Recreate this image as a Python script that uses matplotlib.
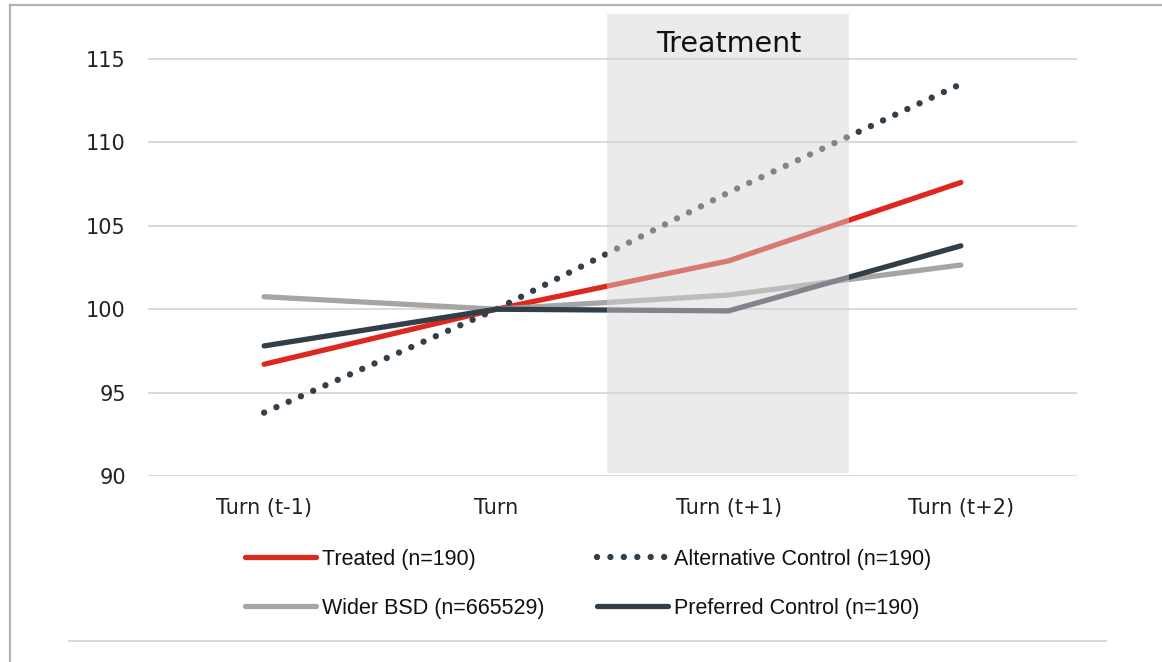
import matplotlib
matplotlib.use('Agg')
import matplotlib.pyplot as plt
from matplotlib.lines import Line2D

# Periods and series values (index, Turn = 100)
periods = ['Turn (t-1)', 'Turn', 'Turn (t+1)', 'Turn (t+2)']
treated = [96.7, 100.0, 102.9, 107.6]
alt_control = [93.8, 100.0, 107.0, 113.5]
wider_bsd = [100.75, 100.0, 100.85, 102.65]
pref_control = [97.8, 100.0, 99.9, 103.8]
yticks = [90, 95, 100, 105, 110, 115]

W, H = 1162, 662
fig = plt.figure(figsize=(W / 100, H / 100), dpi=100)
ax = fig.add_axes([148 / W, 1 - 476 / H, 929 / W, 462 / H])

x = range(len(periods))
l_tr, = ax.plot(x, treated, color='#dc281e', lw=3.8, solid_capstyle='round', zorder=3,
                label='Treated (n=190)')
l_alt, = ax.plot(x, alt_control, color='#333f4a', lw=4.6, linestyle=(0, (0.001, 2.1)),
                 dash_capstyle='round', zorder=3, label='Alternative Control (n=190)')
l_bsd, = ax.plot(x, wider_bsd, color='#a5a5a5', lw=3.8, solid_capstyle='round', zorder=3,
                 label='Wider BSD (n=665529)')
l_pref, = ax.plot(x, pref_control, color='#333f48', lw=3.8, solid_capstyle='round', zorder=3,
                  label='Preferred Control (n=190)')

# shaded treatment window sits on top of the lines
ax.axvspan(1.475, 2.52, ymin=0.007, ymax=1, facecolor='#d6d6d6', alpha=0.47,
           lw=0, zorder=5)
ax.text(2.0, 115.9, 'Treatment', ha='center', va='center', fontsize=20.5,
        family='DejaVu Sans', color='#111111', zorder=6)

ax.set_xlim(-0.5, 3.5)
ax.set_ylim(90, 117.7)
ax.set_xticks(list(x))
ax.set_xticklabels(periods)
ax.set_yticks(yticks)
ax.tick_params(length=0, labelsize=15, colors='#222222')
ax.tick_params(axis='y', pad=16)
ax.tick_params(axis='x', pad=16)
for s in ax.spines.values():
    s.set_visible(False)
ax.grid(axis='y', color='#d9d9d9', lw=1.4, zorder=1)
ax.set_axisbelow(True)

# legend fills column by column: treated / wider, then alternative / preferred
leg = fig.legend(handles=[l_tr, l_bsd, l_alt, l_pref], loc='upper left',
                 bbox_to_anchor=(245 / W, 1 - 549 / H), ncol=2, frameon=False,
                 prop={'family': 'Liberation Sans', 'size': 15.5},
                 handlelength=3.3, handletextpad=0.28, columnspacing=2.45,
                 labelspacing=1.28, borderaxespad=0, borderpad=0)
for t in leg.get_texts():
    t.set_color('#111111')

# outer frame and bottom rule
fig.add_artist(Line2D([10 / W, 10 / W], [0, 1 - 5 / H], transform=fig.transFigure,
                      color='#b3b3b3', lw=1.6))
fig.add_artist(Line2D([10 / W, 1], [1 - 5 / H, 1 - 5 / H], transform=fig.transFigure,
                      color='#b3b3b3', lw=1.6))
fig.add_artist(Line2D([69 / W, 1106 / W], [1 - 641 / H, 1 - 641 / H],
                      transform=fig.transFigure, color='#d9d9d9', lw=1.4))

fig.savefig('out.png', dpi=100)
